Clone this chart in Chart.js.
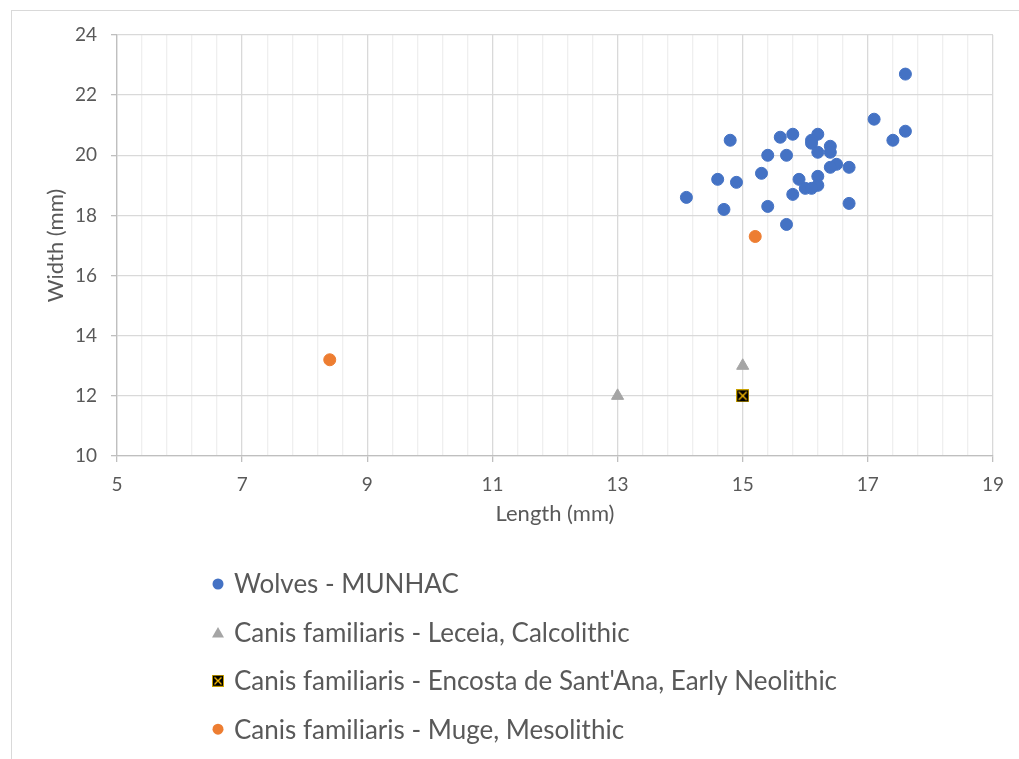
<!DOCTYPE html>
<html>
<head>
<meta charset="utf-8">
<script src="https://cdn.jsdelivr.net/npm/chart.js@4.4.0/dist/chart.umd.min.js"></script>
<style>
  html, body { margin: 0; padding: 0; background: #ffffff; }
  #wrap { width: 1019px; height: 759px; position: relative; }
</style>
</head>
<body>
<div id="wrap"><canvas id="c" width="1019" height="759"></canvas></div>
<script>
// ---- Data ----
const seriesNames = [
  "Wolves - MUNHAC",
  "Canis familiaris - Leceia, Calcolithic",
  "Canis familiaris - Encosta de Sant'Ana, Early Neolithic",
  "Canis familiaris - Muge, Mesolithic"
];
const wolvesLength = [17.6, 17.1, 17.6, 17.4, 14.8, 15.6, 15.8, 16.2, 16.1, 16.1, 16.4, 16.2, 16.4, 15.4, 15.7, 16.5, 16.4, 16.7, 15.3, 14.6, 14.9, 15.9, 16.2, 16.2, 16.0, 16.1, 15.8, 14.1, 14.7, 15.4, 16.7, 15.7];
const wolvesWidth  = [22.7, 21.2, 20.8, 20.5, 20.5, 20.6, 20.7, 20.7, 20.5, 20.4, 20.3, 20.1, 20.1, 20.0, 20.0, 19.7, 19.6, 19.6, 19.4, 19.2, 19.1, 19.2, 19.3, 19.0, 18.9, 18.9, 18.7, 18.6, 18.2, 18.3, 18.4, 17.7];
const leceiaLength = [13, 15];
const leceiaWidth  = [12, 13];
const encostaLength = [15];
const encostaWidth  = [12];
const mugeLength = [8.4, 15.2];
const mugeWidth  = [13.2, 17.3];
const xMin = 5, xMax = 19, xMajor = 2, xMinor = 0.4;
const yMin = 10, yMax = 24, yStep = 2;

const toPts = (xs, ys) => xs.map((x, i) => ({ x: x, y: ys[i] }));

// custom marker for Encosta (black square with yellow X)
function makeSquare(size) {
  const cv = document.createElement('canvas');
  cv.width = size; cv.height = size;
  const c = cv.getContext('2d');
  c.fillStyle = '#000000';
  c.fillRect(0, 0, size, size);
  c.strokeStyle = '#C9A100';
  c.lineWidth = 1;
  c.strokeRect(0.5, 0.5, size - 1, size - 1);
  c.strokeStyle = '#FFC000';
  c.lineWidth = 1.3;
  c.beginPath();
  c.moveTo(2.5, 2.5); c.lineTo(size - 2.5, size - 2.5);
  c.moveTo(size - 2.5, 2.5); c.lineTo(2.5, size - 2.5);
  c.stroke();
  return cv;
}
const squareImg = makeSquare(13);
const squareLegendImg = makeSquare(12);

const FONT = "Lato, 'Open Sans', sans-serif";
const TXT = '#595959';

const isMajorX = v => Math.abs((v - xMin) / xMajor - Math.round((v - xMin) / xMajor)) < 1e-6;

const framePlugin = {
  id: 'frame',
  beforeDraw(chart) {
    const ctx = chart.ctx;
    ctx.save();
    ctx.strokeStyle = '#d9d9d9';
    ctx.lineWidth = 1;
    ctx.strokeRect(11.5, 10.5, 1040, 800);
    ctx.restore();
  }
};

const legendPlugin = {
  id: 'customLegend',
  afterDraw(chart) {
    const ctx = chart.ctx;
    ctx.save();
    const x0 = 218, tx = 234, y0 = 584, dy = 48.4;
    chart.data.datasets.forEach((ds, i) => {
      const y = y0 + i * dy;
      ctx.fillStyle = ds.backgroundColor;
      if (ds.pointStyle === 'circle') {
        ctx.beginPath(); ctx.arc(x0, y, 5.5, 0, Math.PI * 2); ctx.fill();
      } else if (ds.pointStyle === 'triangle') {
        ctx.beginPath();
        ctx.moveTo(x0, y - 5.5); ctx.lineTo(x0 + 6, y + 5); ctx.lineTo(x0 - 6, y + 5);
        ctx.closePath(); ctx.fill();
      } else {
        ctx.drawImage(squareLegendImg, x0 - 6, y - 6);
      }
      ctx.fillStyle = TXT;
      ctx.font = "26px " + FONT;
      ctx.textBaseline = 'middle';
      ctx.textAlign = 'left';
      ctx.fillText(ds.label, tx, y + 1);
    });
    ctx.restore();
  }
};

new Chart(document.getElementById('c'), {
  type: 'scatter',
  data: {
    datasets: [
      { label: seriesNames[0], data: toPts(wolvesLength, wolvesWidth), pointStyle: 'circle',
        backgroundColor: '#4472C4', borderColor: '#4472C4', borderWidth: 1, pointRadius: 6 },
      { label: seriesNames[1], data: toPts(leceiaLength, leceiaWidth), pointStyle: 'triangle',
        backgroundColor: '#A5A5A5', borderColor: '#A5A5A5', borderWidth: 1, pointRadius: 7 },
      { label: seriesNames[2], data: toPts(encostaLength, encostaWidth), pointStyle: squareImg,
        backgroundColor: '#000000', borderColor: '#FFC000', borderWidth: 1, pointRadius: 7 },
      { label: seriesNames[3], data: toPts(mugeLength, mugeWidth), pointStyle: 'circle',
        backgroundColor: '#ED7D31', borderColor: '#ED7D31', borderWidth: 1, pointRadius: 6 }
    ]
  },
  options: {
    responsive: false,
    animation: false,
    devicePixelRatio: 1,
    layout: { padding: { left: 0, right: 26, top: 35, bottom: 223 } },
    plugins: {
      legend: { display: false },
      tooltip: { enabled: false }
    },
    scales: {
      x: {
        type: 'linear', min: xMin, max: xMax,
        afterBuildTicks: (s) => {
          const t = [];
          const n = Math.round((xMax - xMin) / xMinor);
          for (let k = 0; k <= n; k++) t.push({ value: +(xMin + k * xMinor).toFixed(1) });
          s.ticks = t;
        },
        afterFit: (s) => { s.height = 80; },
        ticks: {
          autoSkip: false, maxRotation: 0, minRotation: 0, padding: 11,
          color: TXT, font: { size: 19, family: FONT },
          callback: (v) => isMajorX(v) ? String(Math.round(v)) : ''
        },
        grid: {
          color: (c) => isMajorX(c.tick.value) ? '#d9d9d9' : '#efefef',
          tickColor: (c) => isMajorX(c.tick.value) ? '#bfbfbf' : 'rgba(0,0,0,0)',
          tickLength: 6, lineWidth: 1.3
        },
        border: { color: '#bfbfbf', width: 1.3 },
        title: { display: true, text: 'Length (mm)', color: TXT,
          font: { size: 22, family: FONT }, padding: { top: 0, bottom: 9 } }
      },
      y: {
        type: 'linear', min: yMin, max: yMax,
        afterFit: (s) => { s.width = 117; },
        ticks: { stepSize: yStep, padding: 14, color: TXT, font: { size: 19, family: FONT } },
        grid: { color: '#d9d9d9', tickColor: '#bfbfbf', tickLength: 6, lineWidth: 1.3 },
        border: { color: '#bfbfbf', width: 1.3 },
        title: { display: true, text: 'Width (mm)', color: TXT,
          font: { size: 22, family: FONT }, padding: { top: 43, bottom: 0 } }
      }
    }
  },
  plugins: [framePlugin, legendPlugin]
});
</script>
</body>
</html>
